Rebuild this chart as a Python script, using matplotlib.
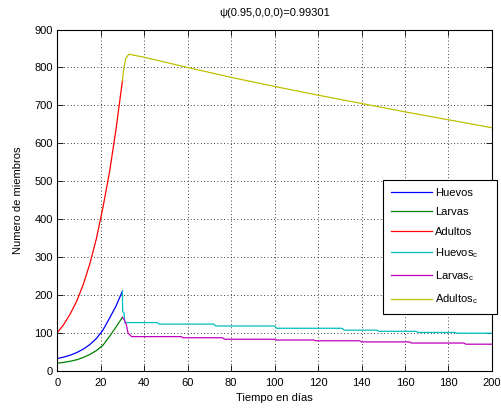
import matplotlib
matplotlib.use('Agg')
import matplotlib.pyplot as plt

plt.rcParams['font.family'] = ['Liberation Sans', 'DejaVu Sans']
plt.rcParams['mathtext.default'] = 'regular'
plt.rcParams['font.size'] = 8

# uncontrolled population, days 0-30
t_pre = [0, 3, 6, 9, 12, 15, 18, 21, 24, 27, 30]
huevos = [32, 36, 41, 48, 57, 69, 85, 107, 138, 170, 210]
larvas = [20, 22, 25, 29, 35, 43, 53, 67, 90, 115, 141]
adultos = [100, 122, 150, 184, 228, 282, 348, 430, 522, 635, 765]

# controlled population, from day 30 on
t_huevos_c = [30, 30.1, 30.7, 31.1, 46, 47, 72, 73, 100, 101, 131, 132,
              147, 148, 165, 166, 183, 184, 200]
huevos_c = [210, 156, 153, 127, 127, 123, 123, 118, 118, 112, 112, 107,
            107, 104, 104, 101, 101, 99, 99]
t_larvas_c = [30, 30.9, 31.8, 32.6, 34.2, 57, 58, 76, 77, 100, 101, 118,
              119, 139, 140, 162, 163, 187, 188, 200]
larvas_c = [141, 134, 121, 99, 90, 90, 87, 87, 83, 83, 81, 81,
            79, 79, 76, 76, 73, 73, 70, 70]
t_adultos_c = [30, 30.6, 31.6, 33, 40, 60, 80, 100, 120, 140, 160, 180, 200]
adultos_c = [765, 798, 825, 835, 827, 800, 774, 750, 727, 705, 683, 662, 641]

colors = [(0, 0, 1), (0, 0.5, 0), (1, 0, 0),
          (0, 0.75, 0.75), (0.75, 0, 0.75), (0.75, 0.75, 0)]

fig = plt.figure(figsize=(5.02, 4.11), dpi=100)
ax = fig.add_axes([0.114, 0.098, 0.866, 0.830])

lw = 0.9
ax.plot(t_pre, huevos, color=colors[0], lw=lw, label='Huevos')
ax.plot(t_pre, larvas, color=colors[1], lw=lw, label='Larvas')
ax.plot(t_pre, adultos, color=colors[2], lw=lw, label='Adultos')
ax.plot(t_huevos_c, huevos_c, color=colors[3], lw=lw, label='Huevos$_c$')
ax.plot(t_larvas_c, larvas_c, color=colors[4], lw=lw, label='Larvas$_c$')
ax.plot(t_adultos_c, adultos_c, color=colors[5], lw=lw, label='Adultos$_c$')

ax.set_xlim(0, 200)
ax.set_ylim(0, 900)
ax.set_xticks(range(0, 201, 20))
ax.set_yticks(range(0, 901, 100))
ax.grid(True, color='black', linestyle=(0, (1, 3)), linewidth=0.6)
ax.tick_params(direction='in', length=4, width=0.6, top=True, right=True,
               labelsize=8, pad=3)
ax.tick_params(axis='x', pad=5)
for s in ax.spines.values():
    s.set_linewidth(0.8)

ax.set_title(u'\u03c8(0.95,0,0,0)=0.99301', fontsize=8, pad=9.5)
ax.set_xlabel(u'Tiempo en d\u00edas', fontsize=8, labelpad=4)
ax.set_ylabel('Numero de miembros', fontsize=8, labelpad=8)

# legend box spans a bit past the right edge of the axes
leg = fig.legend(loc='upper left', bbox_to_anchor=(0.763, 0.238, 0.228, 0.324),
                 mode='expand', fontsize=8, frameon=True, fancybox=False,
                 framealpha=1, edgecolor='black', borderpad=0.7,
                 labelspacing=0.85, handlelength=3.7, handletextpad=0.3,
                 borderaxespad=0)
leg.get_frame().set_linewidth(0.8)

fig.savefig('out.png', dpi=100)
